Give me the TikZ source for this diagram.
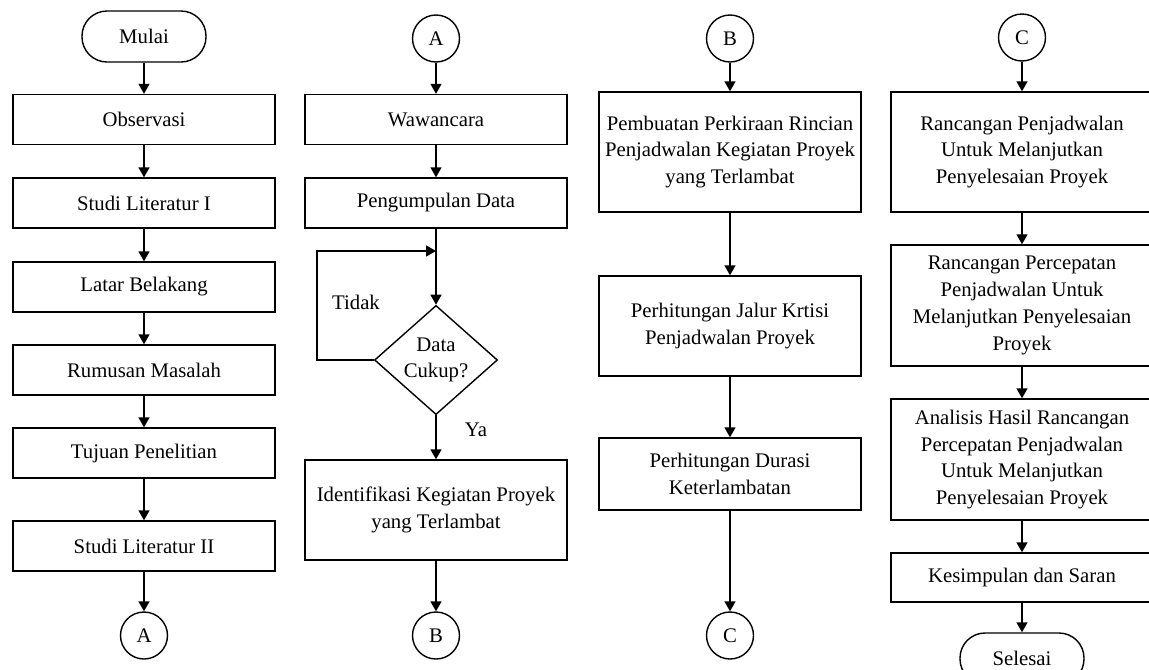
\documentclass[tikz,border=0pt]{standalone}
\usepackage{fontspec}
\setmainfont{Liberation Serif}
\usepackage{tikz}
\usetikzlibrary{arrows.meta,shapes,positioning}
\newcommand{\boxfont}{\fontsize{11.8}{15.2}\selectfont}
\tikzstyle{process} = [rectangle, draw, line width=0.8pt, minimum width=5.24cm, minimum height=1cm, align=center, font=\boxfont]
\tikzstyle{startstop} = [rectangle, draw, line width=0.8pt, rounded corners=5mm, minimum width=2.48cm, minimum height=1.02cm, font=\boxfont]
\tikzstyle{connector} = [circle, draw, line width=0.8pt, minimum size=0.94cm, inner sep=0pt, font=\boxfont]
\tikzstyle{decision} = [diamond, draw, line width=0.8pt, minimum width=2.46cm, minimum height=1.98cm, inner sep=0pt, align=center, font=\boxfont]
\tikzstyle{arrow} = [line width=0.8pt,-{Triangle[length=2mm,width=2.2mm]}]

\begin{document}
\begin{tikzpicture}
    \useasboundingbox (0,0) rectangle (22.98,-13.38);

    % Column 1
    \node[startstop] (mulai) at (2.88,-0.73) {Mulai};
    \node[process] (obs) at (2.88,-2.39) {Observasi};
    \node[process] (lit1) at (2.88,-4.06) {Studi Literatur I};
    \node[process] (latar) at (2.88,-5.74) {Latar Belakang};
    \node[process] (rumusan) at (2.88,-7.40) {Rumusan Masalah};
    \node[process] (tujuan) at (2.88,-9.06) {Tujuan Penelitian};
    \node[process] (lit2) at (2.88,-10.92) {Studi Literatur II};
    \node[connector] (conA1) at (2.88,-12.71) {A};

    % Column 2
    \node[connector] (conA2) at (8.72,-0.77) {A};
    \node[process] (waw) at (8.72,-2.39) {Wawancara};
    \node[process] (kumpul) at (8.72,-4.06) {Pengumpulan Data};
    \node[decision] (cukup) at (8.72,-7.20) {Data\\Cukup?};
    \node[process, minimum height=2cm] (ident) at (8.72,-10.20) {Identifikasi Kegiatan Proyek\\yang Terlambat};
    \node[connector] (conB1) at (8.72,-12.71) {B};
    \coordinate (loopleft) at (6.34,-5.02);
    \coordinate (loopin) at (8.72,-5.02);
    \node[font=\boxfont] (tidak) at (7.12,-6.04) {Tidak};
    \node[font=\boxfont] (ya) at (9.52,-8.60) {Ya};

    % Column 3
    \node[connector] (conB2) at (14.6,-0.77) {B};
    \node[process, minimum height=2.4cm] (buat) at (14.6,-3.04) {Pembuatan Perkiraan Rincian\\Penjadwalan Kegiatan Proyek\\yang Terlambat};
    \node[process, minimum height=2cm] (jalur) at (14.6,-6.52) {Perhitungan Jalur Krtisi\\Penjadwalan Proyek};
    \node[process, minimum height=1.44cm] (durasi) at (14.6,-9.48) {Perhitungan Durasi\\Keterlambatan};
    \node[connector] (conC1) at (14.6,-12.71) {C};

    % Column 4
    \node[connector] (conC2) at (20.44,-0.75) {C};
    \node[process, minimum height=2.4cm] (rancang) at (20.44,-3.04) {Rancangan Penjadwalan\\Untuk Melanjutkan\\Penyelesaian Proyek};
    \node[process, minimum height=2.42cm] (percepat) at (20.44,-6.11) {Rancangan Percepatan\\Penjadwalan Untuk\\Melanjutkan Penyelesaian\\Proyek};
    \node[process, minimum height=2.42cm] (analisis) at (20.44,-9.19) {Analisis Hasil Rancangan\\Percepatan Penjadwalan\\Untuk Melanjutkan\\Penyelesaian Proyek};
    \node[process, minimum height=0.98cm] (simpul) at (20.44,-11.55) {Kesimpulan dan Saran};
    \node[startstop] (selesai) at (20.44,-13.17) {Selesai};

    % Arrows
    \draw[arrow] (mulai) -- (obs);
    \draw[arrow] (obs) -- (lit1);
    \draw[arrow] (lit1) -- (latar);
    \draw[arrow] (latar) -- (rumusan);
    \draw[arrow] (rumusan) -- (tujuan);
    \draw[arrow] (tujuan) -- (lit2);
    \draw[arrow] (lit2) -- (conA1);

    \draw[arrow] (conA2) -- (waw);
    \draw[arrow] (waw) -- (kumpul);
    \draw[arrow] (kumpul) -- (cukup);
    \draw[arrow] (cukup.west) -| (loopleft) -- (loopin);
    \draw[arrow] (cukup) -- (ident);
    \draw[arrow] (ident) -- (conB1);

    \draw[arrow] (conB2) -- (buat);
    \draw[arrow] (buat) -- (jalur);
    \draw[arrow] (jalur) -- (durasi);
    \draw[arrow] (durasi) -- (conC1);

    \draw[arrow] (conC2) -- (rancang);
    \draw[arrow] (rancang) -- (percepat);
    \draw[arrow] (percepat) -- (analisis);
    \draw[arrow] (analisis) -- (simpul);
    \draw[arrow] (simpul) -- (selesai);
\end{tikzpicture}
\end{document}
